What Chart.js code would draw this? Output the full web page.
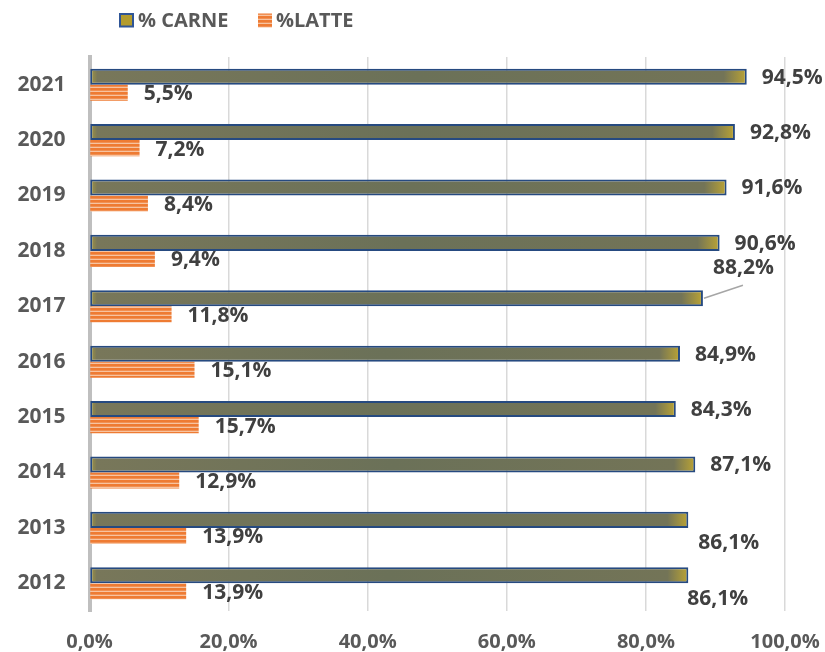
<!DOCTYPE html>
<html>
<head>
<meta charset="utf-8">
<script src="https://cdn.jsdelivr.net/npm/chart.js@4.4.1/dist/chart.umd.min.js"></script>
<style>
  html, body { margin: 0; padding: 0; background: #ffffff; }
  #wrap { width: 825px; height: 652px; position: relative; }
</style>
</head>
<body>
<div id="wrap"><canvas id="c" width="825" height="652"></canvas></div>
<script>
// ---- data (chronological) ----
const years = ['2012', '2013', '2014', '2015', '2016', '2017', '2018', '2019', '2020', '2021'];
const carne = [86.1, 86.1, 87.1, 84.3, 84.9, 88.2, 90.6, 91.6, 92.8, 94.5];
const latte = [13.9, 13.9, 12.9, 15.7, 15.1, 11.8, 9.4, 8.4, 7.2, 5.5];
const seriesNames = ['% CARNE', '%LATTE'];
const xTicks = [0, 20, 40, 60, 80, 100];

// label placement tweaks (layout only, keyed by year)
const carneLabelNudge = {
  '2017': { dx: 10, dy: -30, leader: true },
  '2013': { dx: 10, dy: 23.5 },
  '2012': { dx: -1, dy: 24 }
};

// top-to-bottom order as displayed
const cats = years.slice().reverse();
const carneTop = carne.slice().reverse();
const latteTop = latte.slice().reverse();

const FONT = "'Open Sans', 'DejaVu Sans', sans-serif";
const fmt = v => v.toFixed(1).replace('.', ',') + '%';

// striped pattern for LATTE
function makeStripe() {
  const p = document.createElement('canvas');
  p.width = 4; p.height = 4;
  const g = p.getContext('2d');
  g.fillStyle = '#f7c3a0';
  g.fillRect(0, 0, 4, 4);
  g.fillStyle = '#ee7b33';
  g.fillRect(0, 0, 4, 2.7);
  return g.createPattern(p, 'repeat');
}
const stripe = makeStripe();

function carneFill(ctx) {
  const chart = ctx.chart;
  if (!chart.chartArea || ctx.raw === undefined || !chart.scales.x) return '#6f7357';
  const xs = chart.scales.x;
  const x0 = xs.getPixelForValue(0);
  const x1 = xs.getPixelForValue(ctx.raw);
  if (!isFinite(x0) || !isFinite(x1) || x1 <= x0) return '#6f7357';
  const g = chart.ctx.createLinearGradient(x0, 0, x1, 0);
  g.addColorStop(0, '#a99a3a');
  g.addColorStop(0.012, '#78775a');
  g.addColorStop(0.5, '#6b7158');
  g.addColorStop(0.965, '#737457');
  g.addColorStop(1, '#bba434');
  return g;
}

const labelPlugin = {
  id: 'valueLabels',
  afterDatasetsDraw(chart) {
    const c = chart.ctx;
    c.save();
    c.font = 'bold 21px ' + FONT;
    c.fillStyle = '#404040';
    c.textAlign = 'left';
    c.textBaseline = 'middle';
    chart.data.datasets.forEach((ds, di) => {
      const meta = chart.getDatasetMeta(di);
      meta.data.forEach((bar, i) => {
        const v = ds.data[i];
        let dx = 15, dy = 1;
        let leader = false;
        if (di === 0) {
          const n = carneLabelNudge[cats[i]];
          if (n) { dx = n.dx; dy = n.dy; leader = !!n.leader; }
        } else {
          dx = 16; dy = 1.5;
        }
        const tx = bar.x + dx, ty = bar.y + dy;
        if (leader) {
          c.save();
          c.strokeStyle = '#a6a6a6';
          c.lineWidth = 1.5;
          c.beginPath();
          c.moveTo(bar.x + 1, bar.y);
          c.lineTo(bar.x + 40, bar.y - 13);
          c.stroke();
          c.restore();
        }
        c.fillText(fmt(v), tx, ty);
      });
    });
    c.restore();
  }
};

const legendPlugin = {
  id: 'customLegend',
  afterDraw(chart) {
    const c = chart.ctx;
    c.save();
    // CARNE box
    c.fillStyle = '#b39c2e';
    c.fillRect(120, 14, 13, 12.5);
    c.strokeStyle = '#2f5597';
    c.lineWidth = 2;
    c.strokeRect(120, 14, 13, 12.5);
    // LATTE box
    c.fillStyle = stripe;
    c.fillRect(258, 13.5, 14, 14);
    c.font = 'bold 20px ' + FONT;
    c.fillStyle = '#595959';
    c.textAlign = 'left';
    c.textBaseline = 'alphabetic';
    c.fillText(seriesNames[0], 138, 27);
    c.fillText(seriesNames[1], 276, 27);
    c.restore();
  }
};

new Chart(document.getElementById('c'), {
  type: 'bar',
  data: {
    labels: cats,
    datasets: [
      {
        label: seriesNames[0],
        data: carneTop,
        backgroundColor: carneFill,
        borderColor: '#264a80',
        borderWidth: 2,
        borderSkipped: false,
        categoryPercentage: 0.58,
        barPercentage: 1.0
      },
      {
        label: seriesNames[1],
        data: latteTop,
        backgroundColor: stripe,
        borderWidth: 0,
        categoryPercentage: 0.58,
        barPercentage: 1.0
      }
    ]
  },
  options: {
    indexAxis: 'y',
    responsive: false,
    animation: false,
    devicePixelRatio: 1,
    layout: { padding: { top: 57, right: 40, bottom: 0, left: 0 } },
    plugins: {
      legend: { display: false },
      tooltip: { enabled: false },
      title: { display: false }
    },
    scales: {
      x: {
        min: 0,
        max: 100,
        afterBuildTicks(scale) { scale.ticks = xTicks.map(v => ({ value: v })); },
        afterFit(scale) { scale.height = 41; scale.paddingLeft = 0; scale.paddingRight = 0; },
        grid: { color: '#d9d9d9', lineWidth: 1.5, drawTicks: false },
        border: { display: false },
        ticks: {
          padding: 19,
          color: '#595959',
          font: { family: FONT, size: 20, weight: 'bold' },
          callback: v => fmt(v),
          maxRotation: 0
        }
      },
      y: {
        afterFit(scale) { scale.width = 89.5; scale.paddingTop = 0; scale.paddingBottom = 0; },
        grid: { display: false, drawTicks: false },
        border: { display: true, color: '#bfbfbf', width: 4 },
        ticks: {
          padding: 24,
          color: '#595959',
          font: { family: FONT, size: 21, weight: 'bold' }
        }
      }
    }
  },
  plugins: [labelPlugin, legendPlugin]
});
</script>
</body>
</html>
